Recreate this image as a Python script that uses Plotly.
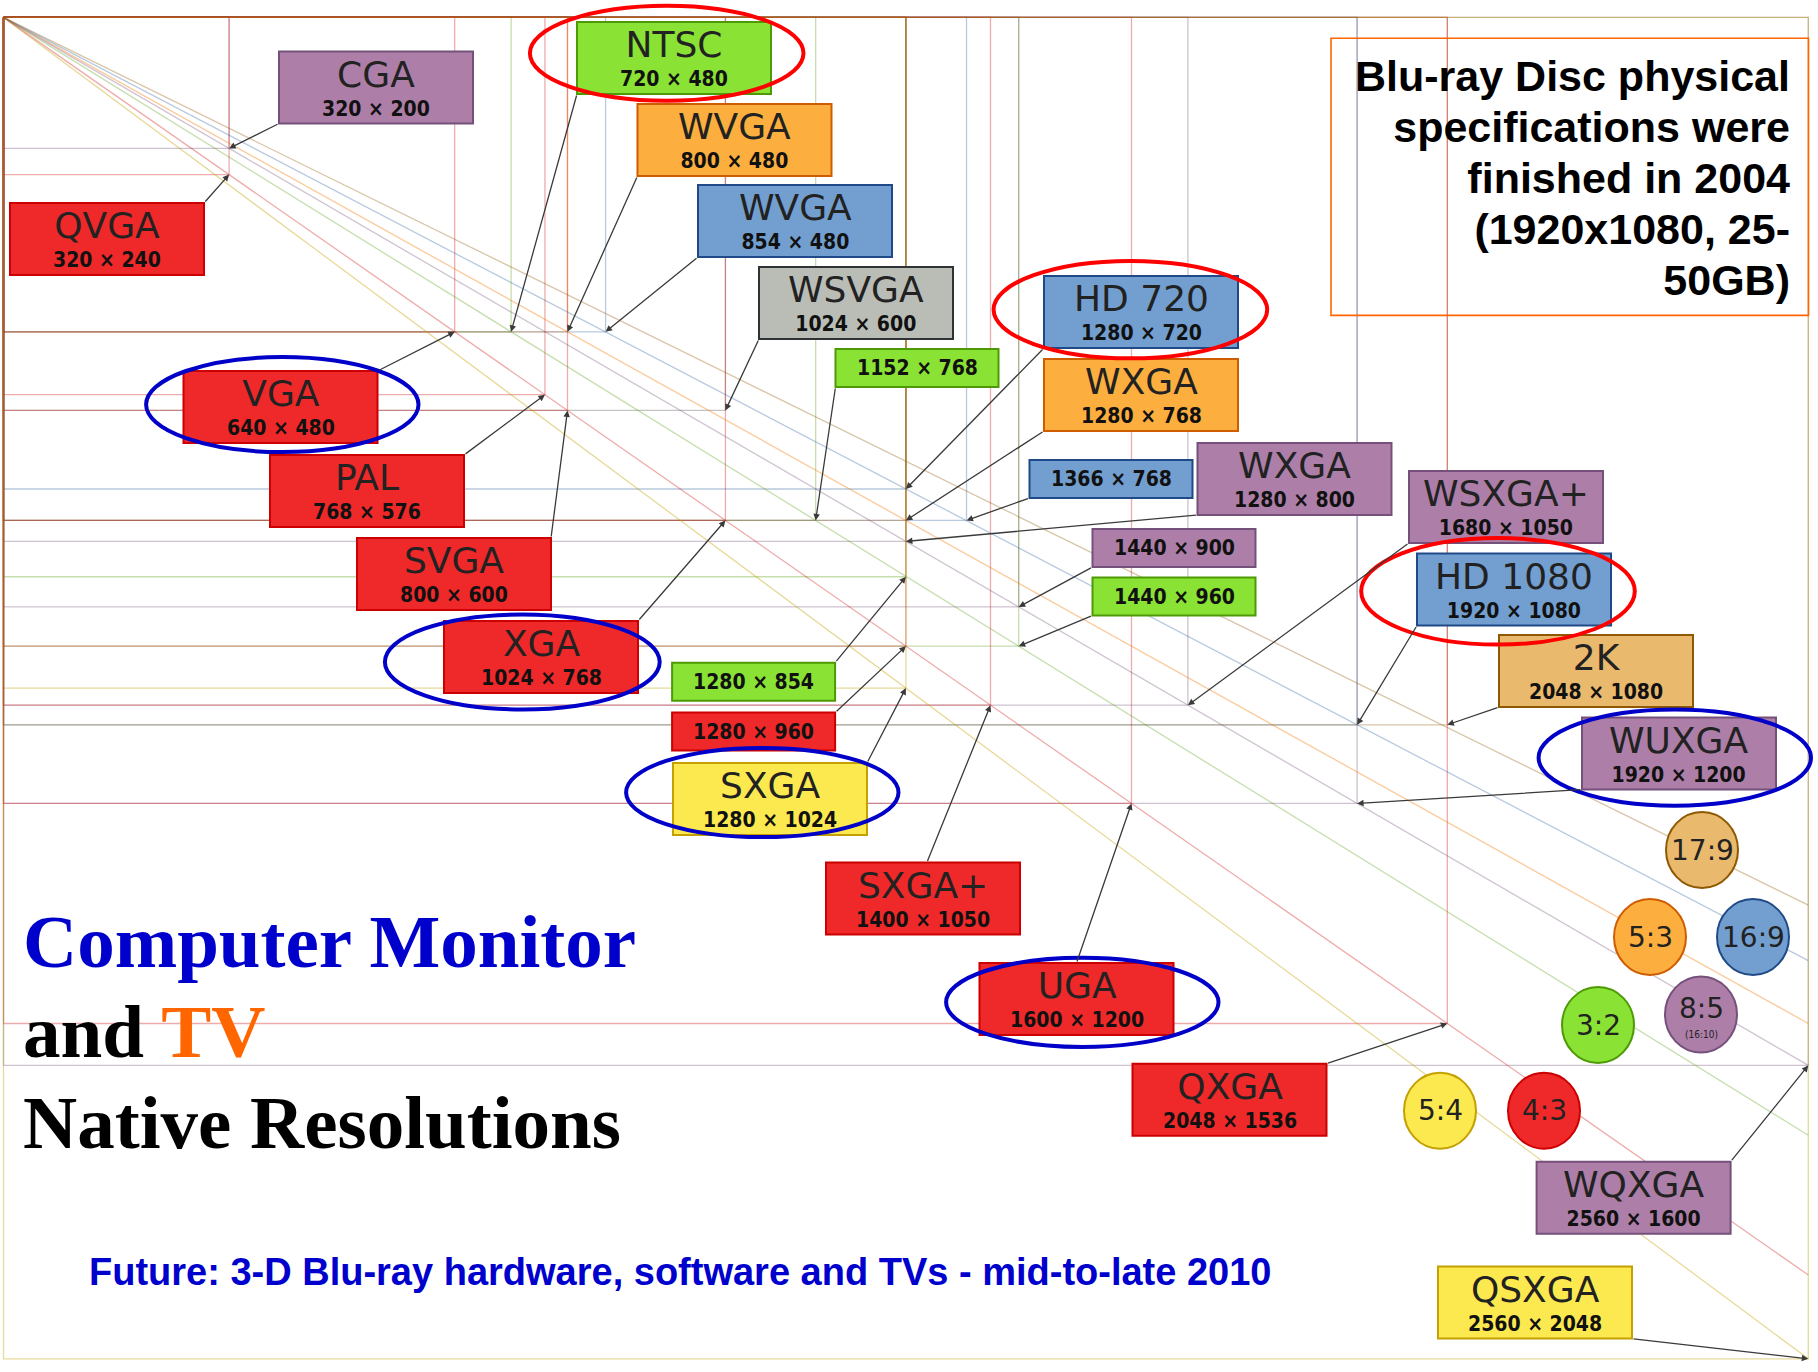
import plotly.graph_objects as go

# ---------------- data ----------------
res_names = ["CGA", "QVGA", "NTSC", "WVGA", "WVGA", "WSVGA", "", "HD 720", "WXGA", "",
             "WXGA", "", "", "WSXGA+", "HD 1080", "2K", "WUXGA", "VGA", "PAL", "SVGA",
             "XGA", "", "", "SXGA", "SXGA+", "UGA", "QXGA", "WQXGA", "QSXGA"]
res_w = [320, 320, 720, 800, 854, 1024, 1152, 1280, 1280, 1366,
         1280, 1440, 1440, 1680, 1920, 2048, 1920, 640, 768, 800,
         1024, 1280, 1280, 1280, 1400, 1600, 2048, 2560, 2560]
res_h = [200, 240, 480, 480, 480, 600, 768, 720, 768, 768,
         800, 900, 960, 1050, 1080, 1080, 1200, 480, 576, 600,
         768, 854, 960, 1024, 1050, 1200, 1536, 1600, 2048]
res_aspect = ["16:10", "4:3", "3:2", "5:3", "16:9", "other", "3:2", "16:9", "5:3", "16:9",
              "16:10", "16:10", "3:2", "16:10", "16:9", "17:9", "16:10", "4:3", "4:3", "4:3",
              "4:3", "3:2", "4:3", "5:4", "4:3", "4:3", "4:3", "16:10", "5:4"]

ratio_labels = ["17:9", "5:3", "16:9", "3:2", "8:5", "5:4", "4:3"]
ratio_key = ["17:9", "5:3", "16:9", "3:2", "16:10", "5:4", "4:3"]
ratio_num = [17, 5, 16, 3, 8, 5, 4]
ratio_den = [9, 3, 9, 2, 5, 4, 3]

highlight_red = ["NTSC", "HD 720", "HD 1080"]
highlight_blue = ["VGA", "XGA", "SXGA", "WUXGA", "UGA"]

title_lines = ["<span style='color:#0000cc'>Computer Monitor</span>",
               "and <span style='color:#ff6600'>TV</span>",
               "Native Resolutions"]
note_lines = ["Blu-ray Disc physical", "specifications were", "finished in 2004",
              "(1920x1080, 25-", "50GB)"]
future_text = "Future: 3-D Blu-ray hardware, software and TVs - mid-to-late 2010"

# ---------------- styles ----------------
FILL = {"4:3": "#ef2929", "16:10": "#ad7fa8", "3:2": "#8ae234", "5:3": "#fcaf3e",
        "16:9": "#729fcf", "5:4": "#fce94f", "17:9": "#e9b96e", "other": "#babdb6"}
EDGE = {"4:3": "#cc0000", "16:10": "#75507b", "3:2": "#4e9a06", "5:3": "#ce5c00",
        "16:9": "#204a87", "5:4": "#c4a000", "17:9": "#8f5902", "other": "#2e3436"}
LINE = {"4:3": "rgba(204,0,0,0.33)", "16:10": "rgba(117,80,123,0.35)",
        "3:2": "rgba(78,154,6,0.33)", "5:3": "rgba(245,121,0,0.4)",
        "16:9": "rgba(52,101,164,0.35)", "5:4": "rgba(196,160,0,0.4)",
        "17:9": "rgba(143,89,2,0.35)", "other": "rgba(85,87,83,0.35)"}

W, H = 1818, 1372
X0P, KX = 3.5, 0.705   # pixel = X0P + KX * width-units
Y0P, KY = 17.4, 0.655  # pixel = Y0P + KY * height-units


def du(px):
    return (px - X0P) / KX


def dv(py):
    return (py - Y0P) / KY


# label layout (pixel centre x, centre y, kind, arrow anchor fx, fy)
label_layout = [
    (376, 87.5, "big", -0.5, 0.5), (107, 239, "big", 0.5, -0.5),
    (674, 58, "big", -0.5, 0.5), (734.5, 140, "big", -0.5, 0.5),
    (795, 221, "big", -0.5, 0.5), (856, 303, "big", -0.5, 0.5),
    (917, 368, "small", -0.5, 0.5), (1141, 312, "big", -0.5, 0.5),
    (1141, 395, "big", -0.5, 0.5), (1111, 479, "small", -0.5, 0.5),
    (1294.5, 479, "big", -0.5, 0.5), (1174, 548, "small", -0.5, 0.5),
    (1174, 596.5, "small", -0.5, 0.5), (1506, 507, "big", -0.5, 0.5),
    (1514, 589.5, "big", -0.5, 0.5), (1596, 671, "big", -0.5, 0.5),
    (1679, 753.6, "big", -0.5, 0.5), (280.5, 407, "big", 0.5, -0.5),
    (367, 491, "big", 0.5, -0.5), (454, 574, "big", 0.5, -0.5),
    (541, 657, "big", 0.5, -0.5), (753.6, 681.7, "small", 0.5, -0.5),
    (753.6, 731.6, "small", 0.5, -0.5), (770, 799, "big", 0.5, -0.5),
    (923, 898.5, "big", 0.02, -0.5), (1076.5, 999, "big", 0.0, -0.5),
    (1229.5, 1099.7, "big", 0.5, -0.5), (1633.6, 1197.7, "big", 0.5, -0.5),
    (1535, 1302.6, "big", 0.5, 0.5),
]
BOX = {"big": (194, 72), "small": (163, 38)}

# ellipses highlighting (pixel centre, half-axes)
ellipse_layout = {
    "NTSC": (666.7, 53.3, 136.8, 47.5), "HD 720": (1130.4, 309.6, 136.8, 48.7),
    "HD 1080": (1498, 591.3, 136.8, 53.3), "VGA": (282.3, 404.6, 136.2, 47.5),
    "XGA": (522.3, 662, 137.4, 47.5), "SXGA": (762.3, 792.5, 136.2, 44.6),
    "WUXGA": (1674.8, 757.7, 136.2, 48.1), "UGA": (1082.3, 1002.3, 136.2, 44.6),
}

# aspect circles (pixel centre)
circle_layout = [(1702, 850), (1650, 937), (1753, 937), (1598, 1025),
                 (1701, 1014.5), (1440, 1110.7), (1544, 1110.7)]
CR = (36, 38)

fig = go.Figure()

# rectangles outlines
for w, h, a in zip(res_w, res_h, res_aspect):
    fig.add_trace(go.Scatter(x=[0, w, w, 0, 0], y=[0, 0, h, h, 0], mode="lines",
                             line=dict(color=LINE[a], width=1.3), hoverinfo="skip"))

# aspect ratio diagonals
max_w, max_h = max(res_w), max(res_h)
for n, d, k in zip(ratio_num, ratio_den, ratio_key):
    r = d / n
    if max_w * r <= max_h:
        ex, ey = max_w, max_w * r
    else:
        ex, ey = max_h / r, max_h
    fig.add_trace(go.Scatter(x=[0, ex], y=[0, ey], mode="lines",
                             line=dict(color=LINE[k], width=1.3), hoverinfo="skip"))

shapes = []
annotations = []

# arrows
for w, h, (cx, cy, kind, fx, fy) in zip(res_w, res_h, label_layout):
    bw, bh = BOX[kind]
    tx, ty = cx + fx * bw, cy + fy * bh
    annotations.append(dict(x=w, y=h, ax=du(tx), ay=dv(ty), axref="x", ayref="y",
                            xref="x", yref="y", text="", showarrow=True,
                            arrowhead=2, arrowsize=1.0, arrowwidth=1.3,
                            arrowcolor="#3a3a3a", standoff=0))

NAME_SPAN = "<span style='font-family:DejaVu Sans;font-weight:normal;font-size:36px;color:#222222'>{}</span>"
SIZE_SPAN = "<span style='font-size:21px'>{}</span>"

# boxes and texts
for name, w, h, a, (cx, cy, kind, fx, fy) in zip(res_names, res_w, res_h, res_aspect, label_layout):
    bw, bh = BOX[kind]
    shapes.append(dict(type="rect", xref="x", yref="y", layer="above",
                       x0=du(cx - bw / 2), x1=du(cx + bw / 2),
                       y0=dv(cy - bh / 2), y1=dv(cy + bh / 2),
                       fillcolor=FILL[a], line=dict(color=EDGE[a], width=2)))
    size_txt = f"{w} × {h}"
    if kind == "big":
        annotations.append(dict(x=du(cx), y=dv(cy - 0.5), xref="x", yref="y",
                                text=NAME_SPAN.format(name) + "<br>" + SIZE_SPAN.format(size_txt),
                                showarrow=False,
                                font=dict(family="DejaVu Sans Condensed", size=22,
                                          color="#111111", weight="bold")))
    else:
        annotations.append(dict(x=du(cx), y=dv(cy), xref="x", yref="y", text=size_txt,
                                showarrow=False,
                                font=dict(family="DejaVu Sans Condensed", size=21,
                                          color="#111111", weight="bold")))

# highlight ellipses
for nm, col in [(n, "#ff0000") for n in highlight_red] + [(n, "#0000c8") for n in highlight_blue]:
    ex, ey, rx, ry = ellipse_layout[nm]
    shapes.append(dict(type="circle", xref="x", yref="y", layer="above",
                       x0=du(ex - rx), x1=du(ex + rx), y0=dv(ey - ry), y1=dv(ey + ry),
                       line=dict(color=col, width=4)))

# aspect ratio circles
for lab, k, (px, py) in zip(ratio_labels, ratio_key, circle_layout):
    shapes.append(dict(type="circle", xref="x", yref="y", layer="above",
                       x0=du(px - CR[0]), x1=du(px + CR[0]),
                       y0=dv(py - CR[1]), y1=dv(py + CR[1]),
                       fillcolor=FILL[k], line=dict(color=EDGE[k], width=2)))
    if lab == "8:5":
        txt = ("<span style='font-size:28px'>8:5</span><br>"
               "<span style='font-size:10px;font-family:DejaVu Sans Condensed'>(16:10)</span>")
        annotations.append(dict(x=du(px), y=dv(py + 1), xref="x", yref="y", text=txt,
                                showarrow=False,
                                font=dict(family="DejaVu Sans", size=15, color="#222222")))
    else:
        annotations.append(dict(x=du(px), y=dv(py), xref="x", yref="y", text=lab,
                                showarrow=False,
                                font=dict(family="DejaVu Sans", size=28, color="#222222")))

# Blu-ray note box
shapes.append(dict(type="rect", xref="x", yref="y", layer="above",
                   x0=du(1331), x1=du(1808.5), y0=dv(38.3), y1=dv(315.4),
                   fillcolor="rgba(0,0,0,0)", line=dict(color="#ff6600", width=1.6)))
note_txt = "<br>".join(f"<span style='font-size:43px'>{t}</span>" for t in note_lines)
annotations.append(dict(x=du(1792), y=dv(177.5), xref="x", yref="y", text=note_txt,
                        xanchor="right", yanchor="middle", align="right", showarrow=False,
                        font=dict(family="Liberation Sans, Arial", size=39.2,
                                  color="#000000", weight="bold")))

# Title
title_txt = "<br>".join(f"<span style='font-size:75px'>{t}</span>" for t in title_lines)
annotations.append(dict(x=du(21), y=dv(1032), xref="x", yref="y", text=title_txt,
                        xanchor="left", yanchor="middle", align="left", showarrow=False,
                        font=dict(family="Liberation Serif, Times New Roman", size=69.6,
                                  color="#000000", weight="bold")))

annotations.append(dict(x=du(87), y=dv(1272), xref="x", yref="y", text=future_text,
                        xanchor="left", showarrow=False,
                        font=dict(family="Liberation Sans, Arial", size=38,
                                  color="#0000cc", weight="bold")))

fig.update_layout(
    width=W, height=H, margin=dict(l=0, r=0, t=0, b=0),
    paper_bgcolor="white", plot_bgcolor="white", showlegend=False,
    xaxis=dict(range=[du(0), du(W)], visible=False, fixedrange=True),
    yaxis=dict(range=[dv(H), dv(0)], visible=False, fixedrange=True),
    shapes=shapes, annotations=annotations,
)

fig.write_html("out.html", config={"displayModeBar": False},
               post_script="document.body.style.margin='0';")
